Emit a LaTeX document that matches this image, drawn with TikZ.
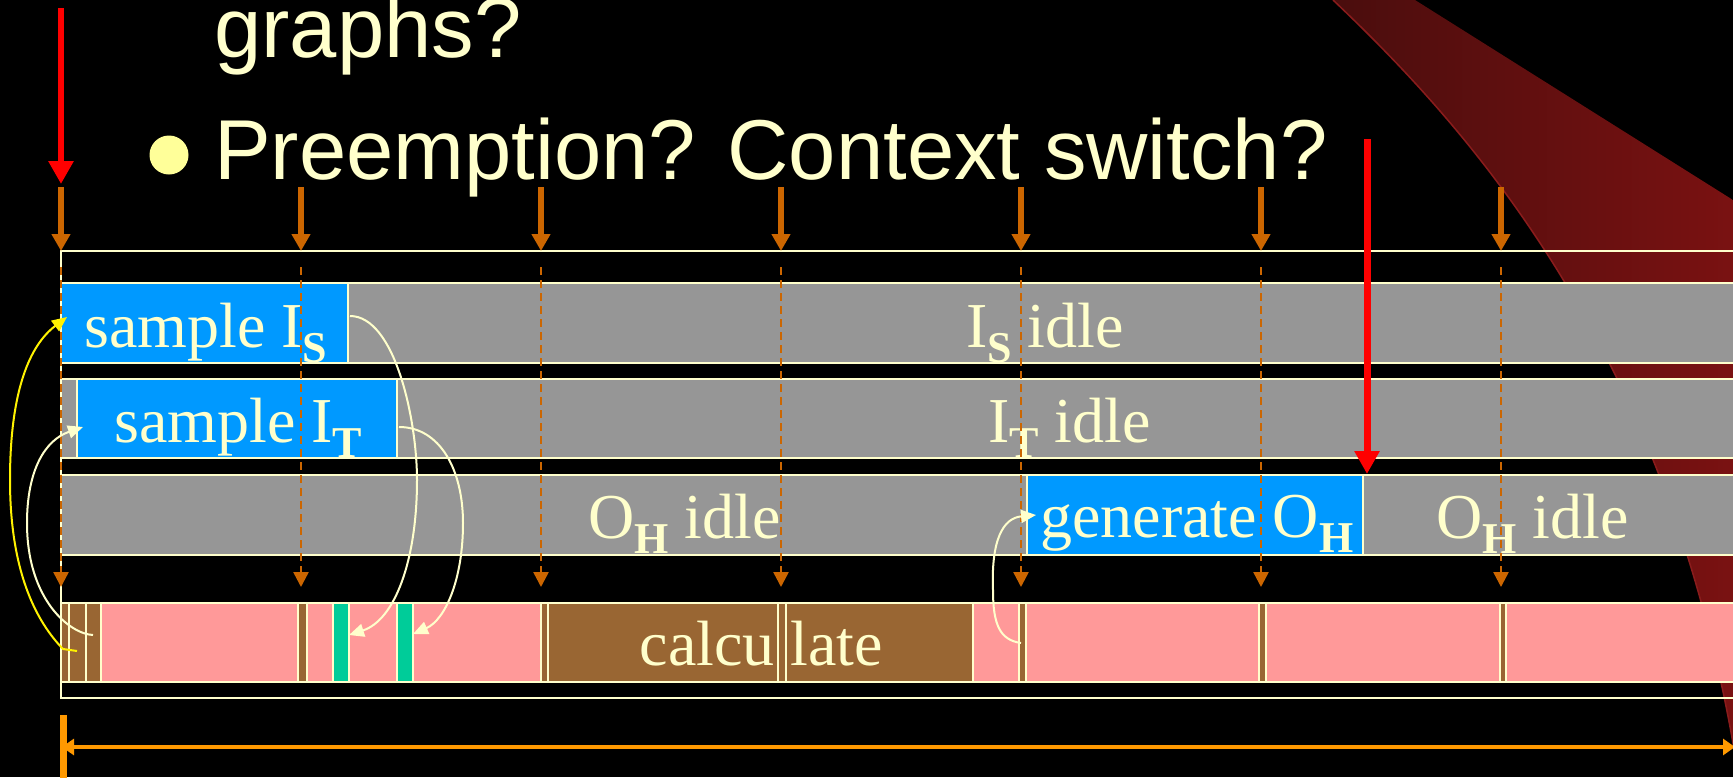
\documentclass[tikz,border=0pt]{standalone}
\usepackage{fontspec}
\setmainfont{Liberation Serif}
\newfontfamily\headfont{Liberation Sans}
\usetikzlibrary{arrows.meta}

\definecolor{cream}{HTML}{FFFFCC}
\definecolor{idlegray}{HTML}{969696}
\definecolor{taskblue}{HTML}{0099FF}
\definecolor{cpupink}{HTML}{FF9999}
\definecolor{cpubrown}{HTML}{996633}
\definecolor{isrgreen}{HTML}{00CC99}
\definecolor{tickorange}{HTML}{CC6600}
\definecolor{spanorange}{HTML}{FF9900}
\definecolor{bulletyellow}{HTML}{FFFF99}
\definecolor{swooshdark}{HTML}{4A0D0D}
\definecolor{swooshlight}{HTML}{7D1212}
\definecolor{swooshedge}{HTML}{8A1C1C}

% bold subscript lowered below the baseline
\newcommand\lowidx[1]{\raisebox{-15pt}{\fontsize{44}{44}\selectfont\bfseries #1}}

\begin{document}
\begin{tikzpicture}[x=1pt,y=-1pt,
  bar/.style={draw=cream, line width=2pt},
  lbl/.style={text=cream, inner sep=0pt, anchor=base west, font=\fontsize{64}{64}\selectfont},
  headline/.style={text=cream, inner sep=0pt, anchor=base west, font=\headfont\fontsize{85}{85}\selectfont},
  tickarrow/.style={draw=tickorange, line width=6.5pt, -{Triangle[length=17pt,width=18pt]}},
  tickdash/.style={draw=tickorange, line width=2.5pt, dash pattern=on 8pt off 5pt, -{Triangle[length=15pt,width=15pt]}},
  flow/.style={draw=cream, line width=2pt, -{Triangle[length=15pt,width=13pt]}},
  trigger/.style={draw=red, -{Triangle[length=23pt,width=24pt]}}
]
\useasboundingbox (0,0) rectangle (1733,777);
\fill[black] (0,0) rectangle (1733,777);

\begin{scope}
\clip (0,0) rectangle (1733,777);

% decorative swoosh in the corner
\shade[left color=swooshdark, right color=swooshlight]
  (1333,0) -- (1415,0) -- (1760,217) -- (1760,800) -- (1742,800)
  .. controls (1680,360) and (1470,130) .. (1333,0) -- cycle;
\draw[swooshedge, line width=1.5pt] (1742,800) .. controls (1680,360) and (1470,130) .. (1333,0);

% heading
\node[headline] (hgraphs) at (214,57) {graphs?};
\node[circle, fill=bulletyellow, minimum size=39pt, inner sep=0pt] (bullet) at (169,155) {};
\node[headline] (hpre) at (214,179) {Preemption? Context switch?};

% outer frame
\draw[cream, line width=2pt] (61,251) rectangle (1760,698);

% row 1: input I_S
\draw[bar, fill=idlegray] (348,283) rectangle (1760,363);
\draw[bar, fill=taskblue] (61,283) rectangle (348,363);
% row 2: input I_T
\draw[bar, fill=idlegray] (61,379) rectangle (1760,458);
\draw[bar, fill=taskblue] (77,379) rectangle (397,458);
% row 3: output O_H
\draw[bar, fill=idlegray] (61,475) rectangle (1760,555);
\draw[bar, fill=taskblue] (1027,475) rectangle (1363,555);
% row 4: processor
\draw[bar, fill=cpupink] (61,603) rectangle (1760,682);
\foreach \xa/\xb/\c in {61/68.5/cpubrown, 68.5/85.5/cpubrown, 85.5/101/cpubrown,
    298/306.5/cpubrown, 333/348.5/isrgreen, 397/412.5/isrgreen,
    541/548/cpubrown, 548/778/cpubrown, 778/785.5/cpubrown, 785.5/973/cpubrown,
    1019/1025.5/cpubrown, 1259/1265.5/cpubrown, 1500/1506/cpubrown}
  \draw[bar, fill=\c] (\xa,603) rectangle (\xb,682);

% labels
\node[lbl] (lsIS) at (84,347) {sample I\lowidx{S}};
\node[lbl] (lsIT) at (114,442) {sample I\lowidx{T}};
\node[lbl] (liIS) at (966,347) {I\lowidx{S} idle};
\node[lbl] (liIT) at (988,442) {I\lowidx{T} idle};
\node[lbl] (liOH) at (588,538) {O\lowidx{H} idle};
\node[lbl] (lgOH) at (1040,537) {generate O\lowidx{H}};
\node[lbl] (liOH2) at (1436,538) {O\lowidx{H} idle};
\node[lbl, anchor=base east] (lcalc) at (775,665) {calcu};
\node[lbl] (llate) at (790,665) {late};

% period ticks
\foreach \i/\x in {0/61,1/301,2/541,3/781,4/1021,5/1261,6/1501} {
  \coordinate (ta\i) at (\x,187);
  \coordinate (tb\i) at (\x,251);
  \coordinate (tc\i) at (\x,267);
  \coordinate (td\i) at (\x,587);
  \draw[tickdash] (tc\i) -- (td\i);
  \draw[tickarrow] (ta\i) -- (tb\i);
}

% control flow between processor and I/O
\coordinate (ya) at (77,651);
\coordinate (yb) at (10,480);
\coordinate (yc) at (67,317);
\draw[draw=yellow, line width=2pt, -{Triangle[length=15pt,width=13pt]}]
  (ya) -- (63,649) .. controls (30,615) and (10,560) .. (yb)
  .. controls (10,390) and (30,345) .. (yc);

\coordinate (ca) at (93,635);
\coordinate (cb) at (27,523);
\coordinate (cc) at (83,427);
\draw[flow] (ca) .. controls (70,634) and (27,600) .. (cb)
  .. controls (27,470) and (45,440) .. (cc);

\coordinate (sa) at (350,316);
\coordinate (sb) at (417,480);
\coordinate (sc) at (349,635);
\draw[flow] (sa) .. controls (395,316) and (417,420) .. (sb)
  .. controls (417,560) and (395,620) .. (sc);

\coordinate (ua) at (399,427);
\coordinate (ub) at (463,523);
\coordinate (uc) at (413,634);
\draw[flow] (ua) .. controls (440,427) and (463,470) .. (ub)
  .. controls (463,580) and (445,620) .. (uc);

\coordinate (ga) at (1021,643);
\coordinate (gb) at (993,590);
\coordinate (gc) at (1036,515);
\draw[flow] (ga) .. controls (1000,640) and (993,625) .. (gb)
  .. controls (991,540) and (1003,518) .. (gc);

% event triggers
\coordinate (ra) at (61,8);
\coordinate (rb) at (61,184);
\draw[trigger, line width=6pt] (ra) -- (rb);
\coordinate (rc) at (1367,139);
\coordinate (rd) at (1367,474);
\draw[trigger, line width=7pt] (rc) -- (rd);

% period span
\coordinate (pa) at (63.5,715);
\coordinate (pb) at (63.5,790);
\draw[spanorange, line width=7pt] (pa) -- (pb);
\coordinate (pl) at (62,747);
\coordinate (pr) at (1735,747);
\draw[spanorange, line width=4pt, {Triangle[length=12pt,width=16pt]}-{Triangle[length=12pt,width=16pt]}] (pl) -- (pr);
\end{scope}
\end{tikzpicture}
\end{document}
